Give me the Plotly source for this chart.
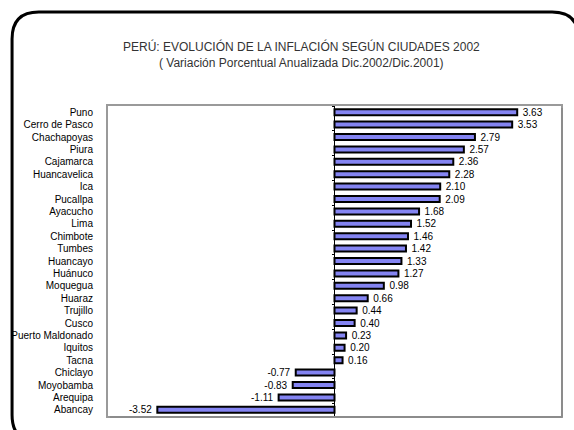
import plotly.graph_objects as go

cities = ["Puno", "Cerro de Pasco", "Chachapoyas", "Piura", "Cajamarca", "Huancavelica",
          "Ica", "Pucallpa", "Ayacucho", "Lima", "Chimbote", "Tumbes", "Huancayo",
          "Huánuco", "Moquegua", "Huaraz", "Trujillo", "Cusco", "Puerto Maldonado",
          "Iquitos", "Tacna", "Chiclayo", "Moyobamba", "Arequipa", "Abancay"]
values = [3.63, 3.53, 2.79, 2.57, 2.36, 2.28, 2.10, 2.09, 1.68, 1.52, 1.46, 1.42, 1.33,
          1.27, 0.98, 0.66, 0.44, 0.40, 0.23, 0.20, 0.16, -0.77, -0.83, -1.11, -3.52]
title_lines = ["PERÚ: EVOLUCIÓN DE LA INFLACIÓN SEGÚN CIUDADES 2002",
               "( Variación Porcentual Anualizada Dic.2002/Dic.2001)"]

NB = "\u00a0"
labels = [(NB * 2 + f"{v:.2f}") if v >= 0 else (f"{v:.2f}" + NB * 2) for v in values]

W, H = 574, 430
L, R, T, B = 105, 11, 106, 14
pw, ph = W - L - R, H - T - B

def px(x):
    return (x - L) / pw

def py(y):
    return (H - B - y) / ph

FONT = "Liberation Sans, Arial, sans-serif"

fig = go.Figure()
fig.add_trace(go.Bar(
    x=values, y=cities, orientation="h", width=0.48,
    marker=dict(color="#8484F2", line=dict(color="black", width=2)),
    text=labels, textposition="outside", cliponaxis=False, constraintext="none",
    textfont=dict(family=FONT, size=10, color="black"),
    showlegend=False, hoverinfo="x+y",
))
fig.add_trace(go.Scatter(
    x=[0] * len(cities), y=cities, yaxis="y2", mode="markers",
    marker=dict(opacity=0), showlegend=False, hoverinfo="skip",
))

# outer rounded frame (pixel geometry converted to paper)
x0, y0, x1, y1, r = 8, 12, 581, 442, 27
path = (f"M {px(x0)},{py(y0 + r)} Q {px(x0)},{py(y0)} {px(x0 + r)},{py(y0)} "
        f"L {px(x1 - r)},{py(y0)} Q {px(x1)},{py(y0)} {px(x1)},{py(y0 + r)} "
        f"L {px(x1)},{py(y1 - r)} Q {px(x1)},{py(y1)} {px(x1 - r)},{py(y1)} "
        f"L {px(x0 + r)},{py(y1)} Q {px(x0)},{py(y1)} {px(x0)},{py(y1 - r)} Z")
shapes = [
    dict(type="path", xref="paper", yref="paper", path=path,
         line=dict(color="black", width=3), layer="below"),
    # shadow of plot frame
    dict(type="line", xref="paper", yref="paper", x0=px(L + 2), x1=px(W - R + 1),
         y0=py(H - B + 1), y1=py(H - B + 1), line=dict(color="#8c8c8c", width=2)),
    dict(type="line", xref="paper", yref="paper", x0=px(W - R + 1), x1=px(W - R + 1),
         y0=py(T + 2), y1=py(H - B + 1), line=dict(color="#8c8c8c", width=2)),
]

annotations = [
    dict(text=t, xref="paper", yref="paper", x=px(301), y=py(yy), xanchor="center",
         yanchor="middle", showarrow=False,
         font=dict(family=FONT, size=12, color="#333333"))
    for t, yy in zip(title_lines, [47, 63])
]

fig.update_layout(
    width=W, height=H,
    margin=dict(l=L, r=R, t=T, b=B),
    paper_bgcolor="white", plot_bgcolor="white",
    font=dict(family=FONT, size=10, color="black"),
    xaxis=dict(range=[-4.5, 4.5], showgrid=False, showticklabels=False, ticks="",
               zeroline=True, zerolinecolor="black", zerolinewidth=1,
               showline=True, mirror=True, linecolor="#9a9a9a", linewidth=2),
    yaxis=dict(categoryorder="array", categoryarray=cities, range=[24.5, -0.5],
               showgrid=False, ticks="", ticklabelstandoff=11,
               showline=True, mirror=True, linecolor="#9a9a9a", linewidth=2,
               tickfont=dict(family=FONT, size=10, color="black")),
    yaxis2=dict(overlaying="y", anchor="free", position=0.5, side="left",
                categoryorder="array", categoryarray=cities, range=[24.5, -0.5],
                showgrid=False, showticklabels=False, ticks="outside", ticklen=3,
                tickcolor="black", tickson="boundaries", showline=False),
    shapes=shapes,
    annotations=annotations,
    bargap=0.5,
)

fig.write_html("out.html", config={"displayModeBar": False},
               post_script="document.body.style.margin='0';document.body.style.overflow='hidden';")
